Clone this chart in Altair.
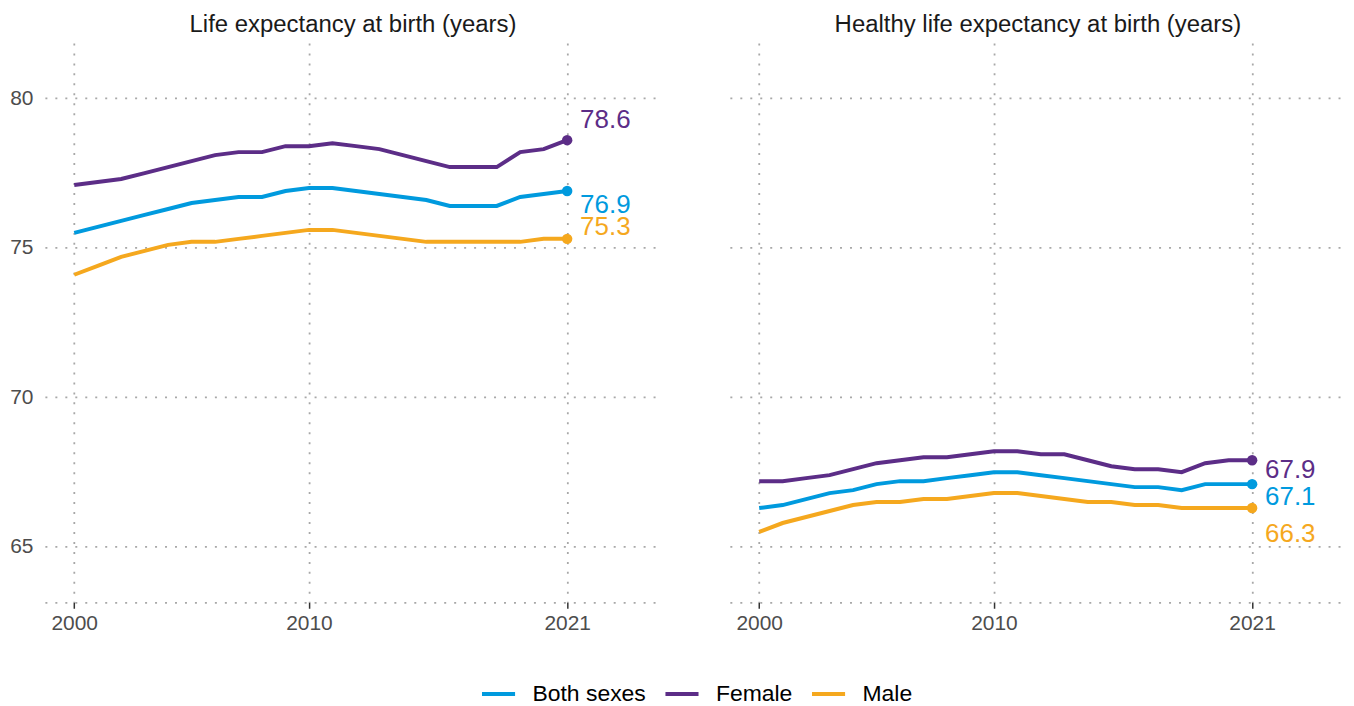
import altair as alt
import pandas as pd

years = list(range(2000, 2022))
series_names = ["Both sexes", "Female", "Male"]
series_colors = ["#009ADE", "#5C2D87", "#F5A81E"]

# Life expectancy at birth (years)
le_both = [75.5, 75.7, 75.9, 76.1, 76.3, 76.5, 76.6, 76.7, 76.7, 76.9, 77.0,
           77.0, 76.9, 76.8, 76.7, 76.6, 76.4, 76.4, 76.4, 76.7, 76.8, 76.9]
le_female = [77.1, 77.2, 77.3, 77.5, 77.7, 77.9, 78.1, 78.2, 78.2, 78.4, 78.4,
             78.5, 78.4, 78.3, 78.1, 77.9, 77.7, 77.7, 77.7, 78.2, 78.3, 78.6]
le_male = [74.1, 74.4, 74.7, 74.9, 75.1, 75.2, 75.2, 75.3, 75.4, 75.5, 75.6,
           75.6, 75.5, 75.4, 75.3, 75.2, 75.2, 75.2, 75.2, 75.2, 75.3, 75.3]

# Healthy life expectancy at birth (years)
hale_both = [66.3, 66.4, 66.6, 66.8, 66.9, 67.1, 67.2, 67.2, 67.3, 67.4, 67.5,
             67.5, 67.4, 67.3, 67.2, 67.1, 67.0, 67.0, 66.9, 67.1, 67.1, 67.1]
hale_female = [67.2, 67.2, 67.3, 67.4, 67.6, 67.8, 67.9, 68.0, 68.0, 68.1, 68.2,
               68.2, 68.1, 68.1, 67.9, 67.7, 67.6, 67.6, 67.5, 67.8, 67.9, 67.9]
hale_male = [65.5, 65.8, 66.0, 66.2, 66.4, 66.5, 66.5, 66.6, 66.6, 66.7, 66.8,
             66.8, 66.7, 66.6, 66.5, 66.5, 66.4, 66.4, 66.3, 66.3, 66.3, 66.3]

titles = ["Life expectancy at birth (years)", "Healthy life expectancy at birth (years)"]
x_ticks = [2000, 2010, 2021]
y_ticks = [65, 70, 75, 80]


def make_df(both, female, male):
    rows = []
    for name, vals in zip(series_names, [both, female, male]):
        for yr, v in zip(years, vals):
            rows.append({"year": yr, "value": v, "series": name})
    return pd.DataFrame(rows)


df_le = make_df(le_both, le_female, le_male)
df_hale = make_df(hale_both, hale_female, hale_male)

GRID = "#A8A8A8"
FONT = "Liberation Sans"

# label vertical offsets (styling, pixels)
label_dy_left = {"Both sexes": 14, "Female": -20, "Male": -12}
label_dy_right = {"Both sexes": 13, "Female": 10, "Male": 26}


def panel(df, title, show_y, label_dy):
    x = alt.X("year:Q",
              scale=alt.Scale(domain=[1998.75, 2025], nice=False, zero=False),
              axis=alt.Axis(values=x_ticks, format="d", title=None,
                            grid=True, gridColor=GRID, gridDash=[2, 8], gridWidth=1.8,
                            domain=True, domainColor=GRID, domainDash=[2, 8], domainWidth=1.8,
                            ticks=True, tickColor="#333333", tickSize=6, tickWidth=1.5,
                            labelFontSize=21, labelColor="#4D4D4D", labelFont=FONT,
                            labelPadding=4))
    y = alt.Y("value:Q",
              scale=alt.Scale(domain=[63.15, 81.85], nice=False, zero=False),
              axis=alt.Axis(values=y_ticks, title=None, labels=show_y,
                            grid=True, gridColor=GRID, gridDash=[2, 8], gridWidth=1.8,
                            domain=False, ticks=False,
                            labelFontSize=21, labelColor="#4D4D4D", labelFont=FONT,
                            labelPadding=12 if show_y else 0))
    color_legend = alt.Color("series:N",
                             scale=alt.Scale(domain=series_names, range=series_colors),
                             legend=alt.Legend(title=None, orient="none", direction="horizontal",
                                               legendX=436, legendY=634,
                                               symbolType="stroke", symbolSize=1100,
                                               symbolStrokeWidth=4, labelFontSize=23,
                                               labelFont=FONT, labelColor="#000000",
                                               labelOffset=15, columnPadding=11))
    color_plain = alt.Color("series:N",
                            scale=alt.Scale(domain=series_names, range=series_colors),
                            legend=None)
    base = alt.Chart(df)
    lines = base.mark_line(strokeWidth=4).encode(x=x, y=y, color=color_legend)
    pts = base.transform_filter(alt.datum.year == 2021).mark_circle(size=110, opacity=1).encode(
        x=x, y=y, color=color_plain)
    texts = []
    for s in series_names:
        texts.append(
            base.transform_filter((alt.datum.year == 2021) & (alt.datum.series == s))
            .mark_text(align="left", baseline="middle", dx=13, dy=label_dy[s],
                       fontSize=26, font=FONT)
            .encode(x=x, y=y, text=alt.Text("value:Q", format=".1f"), color=color_plain)
        )
    return alt.layer(lines, pts, *texts).properties(
        width=618, height=561,
        title=alt.TitleParams(title, fontSize=24, font=FONT, fontWeight="normal",
                              color="#1A1A1A", anchor="middle", offset=6))


left = panel(df_le, titles[0], True, label_dy_left)
right = panel(df_hale, titles[1], False, label_dy_right)

chart = alt.hconcat(left, right, spacing=69).properties(
    padding={"left": 1, "top": 4, "right": 0, "bottom": 5}
).configure(background="white").configure_view(stroke=None)

chart.save("out.html", embed_options={"renderer": "svg", "actions": False})
